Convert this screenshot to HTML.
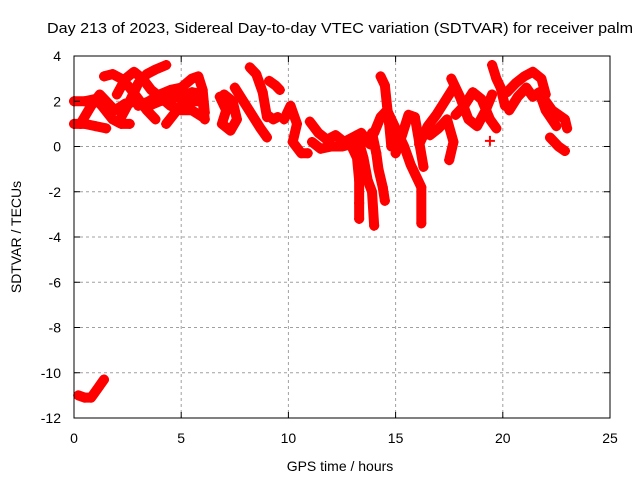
<!DOCTYPE html>
<html><head><meta charset="utf-8"><style>
body{margin:0;background:#fff}
svg{display:block;font-family:"Liberation Sans",sans-serif}
</style></head><body>
<svg id="chart" width="640" height="480" viewBox="0 0 640 480" xmlns="http://www.w3.org/2000/svg">
<rect width="640" height="480" fill="#fff"/>
<text x="340" y="33" font-size="15" text-anchor="middle" textLength="586" lengthAdjust="spacingAndGlyphs">Day 213 of 2023, Sidereal Day-to-day VTEC variation (SDTVAR) for receiver palm</text>
<g id="grid"></g>
<g id="marks"></g>
<rect x="74" y="56" width="536" height="362" fill="none" stroke="#000" stroke-width="1"/>
<g id="axes"></g>
<text x="340" y="471" font-size="14" text-anchor="middle">GPS time / hours</text>
<text transform="translate(21,237) rotate(-90)" font-size="14" text-anchor="middle">SDTVAR / TECUs</text>
</svg>
<script>
const xTicks=[0,5,10,15,20,25];
const yTicks=[-12,-10,-8,-6,-4,-2,0,2,4];
// tracks: arrays of [hours, TECU]
const track1=[[0,1.0],[0.5,1.0],[1,0.9],[1.5,0.8]];
const track2=[[0,2.0],[0.5,2.0],[1,2.1],[1.3,1.8],[1.8,1.2],[2.2,1.0],[2.6,1.0]];
const track3=[[0.3,1.0],[0.8,1.8],[1.2,2.3],[1.5,2.0],[1.9,1.6],[2.4,1.9],[3.0,2.0],[3.5,1.8],[4,2.0],[4.5,2.1],[5,2.2],[5.5,2.4],[6,2.3]];
const track4=[[1.4,3.1],[1.8,3.2],[2.2,3.0],[2.6,2.6],[3.0,2.1],[3.4,1.6],[3.8,1.2]];
const track5=[[2.2,1.3],[2.6,2.0],[3.0,2.8],[3.4,3.2],[3.8,3.4],[4.3,3.6]];
const track6=[[2.0,2.3],[2.4,3.0],[2.8,3.3],[3.2,3.0],[3.6,2.5],[4.0,2.2],[4.5,1.8],[5,1.6],[5.5,1.6],[6,1.3]];
const track7=[[3.0,1.8],[3.5,2.0],[4,2.3],[4.5,2.5],[5,2.6],[5.5,3.0],[5.8,3.1],[6,2.5],[6.1,1.5]];
const track8=[[4.3,1.0],[4.8,1.6],[5.2,2.0],[5.6,2.0],[6,2.0],[6.1,1.2]];
const track9=[[6.8,2.2],[7.1,1.6],[6.9,1.0],[7.3,0.7],[7.6,1.2],[7.4,2.0],[7.0,2.3]];
const track10=[[7.5,2.6],[7.9,2.0],[8.3,1.4],[8.7,0.8],[9.0,0.4]];
const track11=[[8.2,3.5],[8.5,3.2],[8.8,2.4],[9.0,1.3]];
const track12=[[9.1,2.9],[9.4,2.7],[9.6,2.5]];
const track13=[[9.0,1.4],[9.3,1.2],[9.5,1.3]];
const track14=[[9.8,1.2],[10.1,1.8],[10.4,1.0],[10.2,0.2],[10.6,-0.3],[10.9,-0.3]];
const track15=[[11,1.1],[11.4,0.6],[11.8,0.3],[12.2,0.5],[12.6,0.2],[13,0.4],[13.4,0.6],[13.8,0.1]];
const track16=[[11.1,0.2],[11.5,-0.1],[12,0.0],[12.5,0.0],[12.9,0.1],[13.2,-0.5],[13.3,-1.5],[13.3,-2.5],[13.3,-3.2]];
const track17=[[13.2,0.5],[13.5,-0.5],[13.7,-1.5],[13.9,-2.0],[14.0,-3.5]];
const track18=[[13.9,0.6],[14.1,-0.3],[14.2,-1.0],[14.4,-1.8],[14.5,-2.4]];
const track19=[[14.3,3.1],[14.5,2.7],[14.6,1.8],[14.7,1.0],[14.8,0.0]];
const track20=[[14.0,0.6],[14.3,1.3],[14.6,1.6],[15.0,0.8],[15.4,0.0],[15.7,-0.8],[16.0,-1.4],[16.2,-1.8],[16.2,-3.4]];
const track21=[[15.0,-0.3],[15.3,0.5],[15.6,1.4],[15.9,1.3],[16.1,0.2],[16.3,-0.9]];
const track22=[[16.1,0.1],[16.5,0.9],[16.9,1.4],[17.3,2.0],[17.7,2.6]];
const track23=[[16.6,0.5],[17.0,0.8],[17.4,1.2],[17.7,0.2],[17.5,-0.6]];
const track24=[[17.6,3.0],[18.0,2.2],[18.4,1.2],[18.8,0.9],[19.2,1.6],[19.5,2.3]];
const track25=[[17.8,1.4],[18.2,1.8],[18.6,2.4],[19.0,2.1],[19.4,1.2],[19.7,0.8]];
const track26=[[19.5,3.6],[19.7,3.0],[19.9,2.6],[20.1,1.8]];
const track27=[[20.2,2.4],[20.6,2.8],[21.0,3.1],[21.4,3.3],[21.8,3.0],[22.0,2.3]];
const track28=[[20.3,1.6],[20.7,2.2],[21.1,2.6],[21.4,2.2],[21.7,2.4],[22.0,1.6],[22.5,0.9]];
const track29=[[22.0,2.0],[22.3,1.6],[22.6,1.4],[22.9,1.2],[23.0,0.8]];
const track30=[[22.2,0.4],[22.6,0.0],[22.9,-0.2]];
const track31=[[19.4,0.25]];
const track32=[[0.2,-11.0],[0.5,-11.1],[0.8,-11.1],[1.1,-10.7],[1.4,-10.3]];
const tracks=[track1,track2,track3,track4,track5,track6,track7,track8,track9,track10,track11,track12,track13,track14,track15,track16,track17,track18,track19,track20,track21,track22,track23,track24,track25,track26,track27,track28,track29,track30,track31,track32];

const X=t=>74+t*(536/25);
const Y=v=>56+(4-v)*(362/16);
const NS="http://www.w3.org/2000/svg";
const grid=document.getElementById('grid'),axes=document.getElementById('axes'),marks=document.getElementById('marks');
function mk(tag,attrs,parent){const e=document.createElementNS(NS,tag);for(const k in attrs)e.setAttribute(k,attrs[k]);parent.appendChild(e);return e;}
xTicks.forEach(t=>{
  if(t>0&&t<25){const g=mk('line',{x1:X(t),x2:X(t),y1:56,y2:418,stroke:'#a0a0a0','stroke-dasharray':'3,3'},grid);
  
  }
  mk('line',{x1:X(t),x2:X(t),y1:418,y2:412,stroke:'#000'},axes);
  mk('line',{x1:X(t),x2:X(t),y1:56,y2:62,stroke:'#000'},axes);
  const l=mk('text',{x:X(t),y:443,'font-size':14,'text-anchor':'middle'},axes);l.textContent=t;
  
  
});
yTicks.forEach(v=>{
  if(v>-12&&v<4){const g=mk('line',{x1:74,x2:610,y1:Y(v),y2:Y(v),stroke:'#a0a0a0','stroke-dasharray':'3,3'},grid);
  
  }
  mk('line',{x1:74,x2:80,y1:Y(v),y2:Y(v),stroke:'#000'},axes);
  mk('line',{x1:604,x2:610,y1:Y(v),y2:Y(v),stroke:'#000'},axes);
  const l=mk('text',{x:61,y:Y(v)+5,'font-size':14,'text-anchor':'end'},axes);l.textContent=v;
  
  
});
tracks.forEach(tr=>{
  const pts=tr.map(p=>X(p[0])+','+Y(p[1])).join(' ');
  const pl=mk('polyline',{points:pts,fill:'none',stroke:'#f00','stroke-width':10,'stroke-linejoin':'round','stroke-linecap':'round'},marks);
  
  
  tr.forEach(p=>{
    const x=X(p[0]),y=Y(p[1]);
    const m=mk('path',{d:`M${x-5},${y}H${x+5}M${x},${y-5}V${y+5}`,stroke:'#f00','stroke-width':2},marks);
    
    
  });
});
</script>
</body></html>
